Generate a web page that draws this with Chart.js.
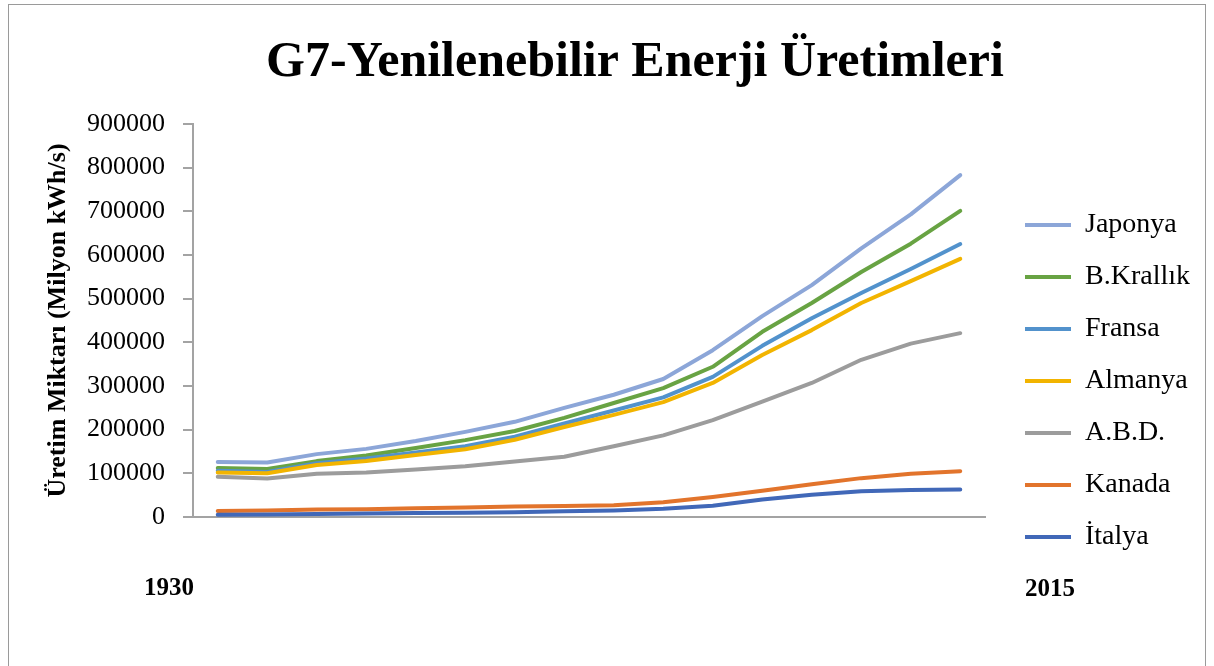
<!DOCTYPE html>
<html>
<head>
<meta charset="utf-8">
<title>G7-Yenilenebilir Enerji Üretimleri</title>
<script src="https://cdn.jsdelivr.net/npm/chart.js@4/dist/chart.umd.min.js"></script>
<style>
    body { margin: 0; background: #fff; }
    #wrap { position: relative; width: 1214px; height: 666px; overflow: hidden; }
    #frame { position: absolute; left: 8px; top: 4px; width: 1196px; height: 700px; border: 1px solid #9a9a9a; }
    #g7Chart { position: absolute; left: 0; top: 0; }
</style>
</head>
<body>
<div id="wrap">
    <div id="frame"></div>
    <canvas id="g7Chart" width="1214" height="666"></canvas>
</div>
<script>
// periods on the x axis (no tick labels shown, only the edge years)
const periods = ['1', '2', '3', '4', '5', '6', '7', '8', '9', '10', '11', '12', '13', '14', '15', '16'];
const edgeYears = ['1930', '2015'];
const yTicks = [0, 100000, 200000, 300000, 400000, 500000, 600000, 700000, 800000, 900000];

// values, Milyon kWh/s
const italya   = [5000, 6000, 7000, 8000, 9000, 10000, 11000, 13000, 15000, 19000, 26000, 40000, 51000, 59000, 62000, 63000];
const kanada   = [14000, 15000, 17000, 18000, 20000, 22000, 24000, 25000, 27000, 34000, 46000, 60000, 75000, 89000, 99000, 105000];
const abd      = [92000, 88000, 99000, 102000, 109000, 116000, 127000, 138000, 162000, 187000, 222000, 264000, 307000, 360000, 397000, 421000];
const almanya  = [102000, 100000, 119000, 128000, 142000, 155000, 177000, 206000, 234000, 263000, 307000, 371000, 428000, 490000, 540000, 591000];
const fransa   = [106000, 103000, 123000, 134000, 148000, 162000, 184000, 214000, 244000, 274000, 321000, 392000, 455000, 513000, 568000, 625000];
const krallik  = [112000, 110000, 128000, 141000, 158000, 176000, 197000, 227000, 261000, 295000, 344000, 424000, 490000, 561000, 626000, 701000];
const japonya  = [126000, 125000, 144000, 156000, 174000, 195000, 218000, 250000, 280000, 316000, 382000, 460000, 531000, 615000, 693000, 783000];

const serif = "'Liberation Serif', 'Times New Roman', serif";
const axisGray = '#a3a3a3';

function line(label, data, color) {
    return {
        label: label,
        data: data,
        borderColor: color,
        backgroundColor: color,
        borderWidth: 4,
        borderCapStyle: 'round',
        borderJoinStyle: 'round',
        pointRadius: 0,
        tension: 0,
        fill: false
    };
}

// legend sits a bit further right than chart.js would put it
const legendShift = {
    id: 'legendShift',
    afterLayout(chart) {
        var lg = chart.legend;
        var w = lg.right - lg.left;
        lg.left = 1001;
        lg.right = 1001 + w;
    }
};

// the two year labels under the plot
const edgeYearLabels = {
    id: 'edgeYearLabels',
    afterDraw(chart) {
        var ctx = chart.ctx;
        ctx.save();
        ctx.font = 'bold 25px ' + serif;
        ctx.fillStyle = '#000';
        ctx.textAlign = 'center';
        ctx.textBaseline = 'middle';
        ctx.fillText(edgeYears[0], 169, 589);
        ctx.fillText(edgeYears[1], 1050, 590);
        ctx.restore();
    }
};

var ctx = document.getElementById('g7Chart').getContext('2d');
var g7Chart = new Chart(ctx, {
    type: 'line',
    data: {
        labels: periods,
        datasets: [
            line('İtalya', italya, '#4168b8'),
            line('Kanada', kanada, '#e2742c'),
            line('A.B.D.', abd, '#9c9c9c'),
            line('Almanya', almanya, '#f2b400'),
            line('Fransa', fransa, '#5292cc'),
            line('B.Krallık', krallik, '#68a343'),
            line('Japonya', japonya, '#8ca6d8')
        ]
    },
    options: {
        responsive: false,
        animation: false,
        devicePixelRatio: 1,
        // left padding centres the title like the original, the y axis width makes up for it
        layout: { padding: { top: 0, left: 86, right: 30, bottom: 91 } },
        plugins: {
            title: {
                display: true,
                text: 'G7-Yenilenebilir Enerji Üretimleri',
                color: '#000',
                font: { family: serif, size: 50, weight: 'bold' },
                padding: { top: 33, bottom: 31 }
            },
            legend: {
                position: 'right',
                align: 'end',
                reverse: true,
                labels: {
                    usePointStyle: true,
                    pointStyle: 'line',
                    pointStyleWidth: 46,
                    padding: 24,
                    color: '#000',
                    font: { family: serif, size: 28 }
                }
            },
            tooltip: { enabled: false }
        },
        scales: {
            x: {
                offset: true,
                grid: { display: false },
                ticks: { display: false },
                border: { display: true, color: axisGray, width: 2 },
                afterFit: function(scale) { scale.height = 58; }
            },
            y: {
                min: 0,
                max: 900000,
                afterBuildTicks: function(scale) {
                    scale.ticks = yTicks.map(v => ({ value: v }));
                },
                grid: { drawOnChartArea: false, drawTicks: true, tickLength: 10, color: axisGray, lineWidth: 2 },
                border: { display: true, color: axisGray, width: 2 },
                ticks: {
                    padding: 18,
                    color: '#000',
                    font: { family: serif, size: 26 },
                    callback: function(value) { return String(value); }
                },
                title: {
                    display: true,
                    text: 'Üretim Miktarı (Milyon kWh/s)',
                    color: '#000',
                    font: { family: serif, size: 26, weight: 'bold' },
                    padding: { top: -43, bottom: 0 }
                },
                afterFit: function(scale) { scale.width = 193 - 86; }
            }
        }
    },
    plugins: [legendShift, edgeYearLabels]
});
</script>
</body>
</html>
